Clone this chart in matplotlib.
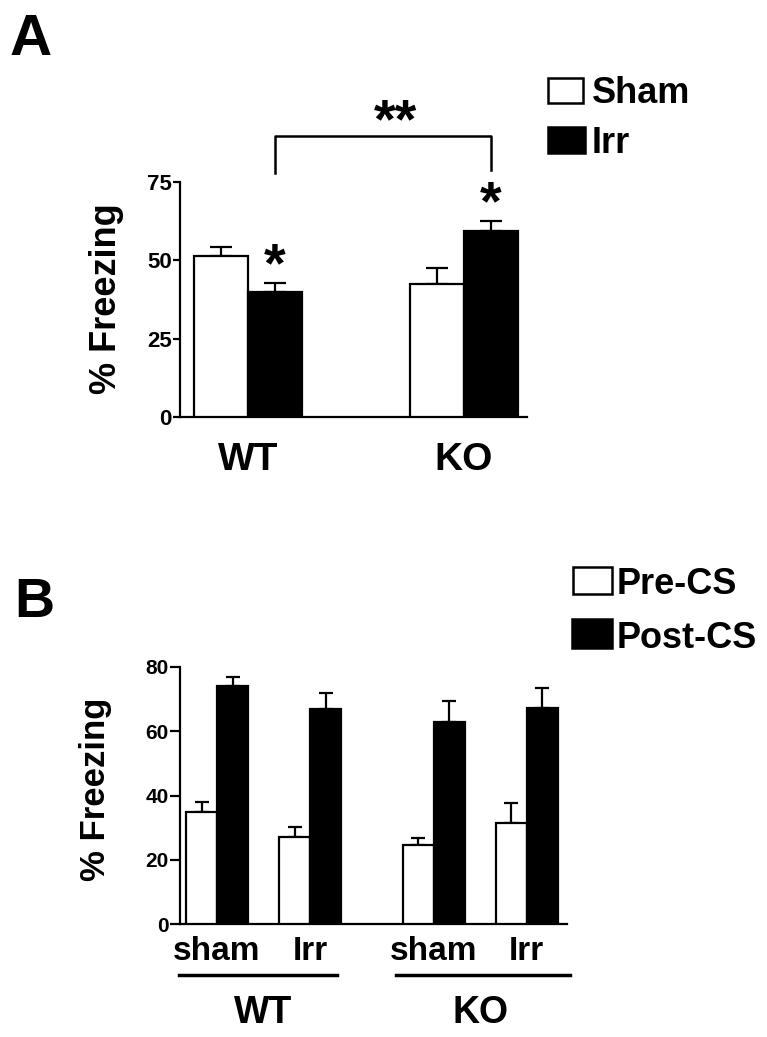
import numpy as np
import matplotlib
matplotlib.use("Agg")
import matplotlib.pyplot as plt
from matplotlib.patches import Rectangle
from matplotlib.lines import Line2D
import matplotlib.transforms as mtransforms

plt.rcParams['font.family'] = ['Liberation Sans', 'DejaVu Sans']

# ---------------- data ----------------
# Panel A
groups_a = ["WT", "KO"]
series_a = ["Sham", "Irr"]
sham_a = [51.4, 42.4]
sham_a_err = [2.9, 5.2]
irr_a = [39.9, 59.4]
irr_a_err = [2.9, 3.2]
yticks_a = [0, 25, 50, 75]

# Panel B
groups_b = ["WT", "KO"]
conds_b = ["sham", "Irr", "sham", "Irr"]
series_b = ["Pre-CS", "Post-CS"]
pre_b = [35.0, 27.0, 24.6, 31.4]
pre_b_err = [3.1, 3.1, 2.2, 6.2]
post_b = [74.0, 66.8, 62.8, 67.2]
post_b_err = [3.0, 5.0, 6.6, 6.2]
yticks_b = [0, 20, 40, 60, 80]

W, H = 767, 1037
fig = plt.figure(figsize=(W / 100, H / 100), dpi=100)


def px_axes(l, t, r, b):
    return fig.add_axes([l / W, 1 - b / H, (r - l) / W, (b - t) / H])


def style_axes(ax, ticklen, ticks, fs):
    for s in ("top", "right"):
        ax.spines[s].set_visible(False)
    for s in ("left", "bottom"):
        ax.spines[s].set_linewidth(1.6)
    ax.set_yticks(ticks)
    ax.set_yticklabels([str(t) for t in ticks], fontsize=fs, fontweight="bold")
    ax.tick_params(axis="y", direction="out", length=ticklen, width=1.6, pad=1)


# ---------------- Panel A ----------------
axA = px_axes(180, 182, 527, 417)
xa = np.arange(len(groups_a), dtype=float)
bw_a = 0.25
axA.bar(xa - bw_a / 2, sham_a, bw_a, color="white", edgecolor="black", linewidth=1.6, zorder=3)
axA.bar(xa + bw_a / 2, irr_a, bw_a, color="black", edgecolor="black", linewidth=1.6, zorder=3)
axA.errorbar(xa - bw_a / 2, sham_a, yerr=[np.zeros(2), sham_a_err], fmt="none",
             ecolor="black", elinewidth=1.6, capsize=8, capthick=1.6, zorder=2)
axA.errorbar(xa + bw_a / 2, irr_a, yerr=[np.zeros(2), irr_a_err], fmt="none",
             ecolor="black", elinewidth=1.6, capsize=8, capthick=1.6, zorder=2)
axA.set_xlim(-0.315, 1.292)
axA.set_ylim(0, 75)
axA.set_xticks(xa)
axA.set_xticklabels(groups_a, fontsize=28, fontweight="bold")
axA.tick_params(axis="x", length=0, pad=18)
style_axes(axA, 5, yticks_a, 16)

# significance stars above Irr bars
for xi, v, e in zip(xa, irr_a, irr_a_err):
    axA.annotate("*", xy=(xi + bw_a / 2, v + e), xytext=(0, 1), textcoords="offset points",
                 ha="center", va="baseline", fontsize=40, fontweight="bold",
                 annotation_clip=False)

# bracket between WT Irr and KO Irr
bx0, bx1 = xa[0] + bw_a / 2, xa[1] + bw_a / 2
axA.add_line(Line2D([bx0, bx0, bx1, bx1], [77.9, 89.7, 89.7, 78.8], color="black",
                    linewidth=1.8, clip_on=False))
axA.annotate("**", xy=((bx0 + bx1) / 2 + 0.06, 89.7), xytext=(0, -1), textcoords="offset points",
             ha="center", va="baseline", fontsize=40, fontweight="bold",
             annotation_clip=False)

fig.text(106 / W, 1 - 299 / H, "% Freezing", rotation=90, ha="center", va="center",
         fontsize=26, fontweight="bold")
fig.text(10 / W, 1 - 55 / H, "A", ha="left", va="baseline", fontsize=42, fontweight="bold")

# legend boxes
def legend_item(l, t, r, b, fc, label, tx, fs):
    fig.patches.append(Rectangle((l / W, 1 - b / H), (r - l) / W, (b - t) / H,
                                 transform=fig.transFigure, facecolor=fc,
                                 edgecolor="black", linewidth=1.8))
    fig.text(tx / W, 1 - b / H, label, ha="left", va="baseline", fontsize=fs,
             fontweight="bold")

legend_item(548, 78, 583, 103, "white", series_a[0], 592, 26)
legend_item(548, 127, 585, 153, "black", series_a[1], 592, 26)

# ---------------- Panel B ----------------
axB = px_axes(180, 667, 567, 924)
xb = np.array([0.0, 1.0, 2.33, 3.33])
bw_b = 0.333
axB.bar(xb - bw_b / 2, pre_b, bw_b, color="white", edgecolor="black", linewidth=1.6, zorder=3)
axB.bar(xb + bw_b / 2, post_b, bw_b, color="black", edgecolor="black", linewidth=1.6, zorder=3)
axB.errorbar(xb - bw_b / 2, pre_b, yerr=[np.zeros(4), pre_b_err], fmt="none",
             ecolor="black", elinewidth=1.6, capsize=5, capthick=1.6, zorder=2)
axB.errorbar(xb + bw_b / 2, post_b, yerr=[np.zeros(4), post_b_err], fmt="none",
             ecolor="black", elinewidth=1.6, capsize=5, capthick=1.6, zorder=2)
axB.set_xlim(-0.398, 3.763)
axB.set_ylim(0, 80)
axB.set_xticks(xb)
axB.set_xticklabels(conds_b, fontsize=24, fontweight="bold")
axB.tick_params(axis="x", length=0, pad=9)
style_axes(axB, 7, yticks_b, 15)

trB = mtransforms.blended_transform_factory(axB.transData, axB.transAxes)
group_members = [(0, 1), (2, 3)]
pads = [(-0.08, -0.04), (-0.07, 0.13)]
for (i0, i1), (pl, pr), name in zip(group_members, pads, groups_b):
    left = xb[i0] - bw_b + pl
    right = xb[i1] + bw_b + pr
    axB.add_line(Line2D([left, right], [-0.198, -0.198], transform=trB, color="black",
                        linewidth=2.5, clip_on=False))
    axB.text((xb[i0] + xb[i1]) / 2, -0.385, name, transform=trB, ha="center",
             va="baseline", fontsize=27, fontweight="bold")

fig.text(96 / W, 1 - 789 / H, "% Freezing", rotation=90, ha="center", va="center",
         fontsize=25, fontweight="bold")
fig.text(14 / W, 1 - 617 / H, "B", ha="left", va="baseline", fontsize=40, fontweight="bold")

legend_item(573, 567, 612, 594, "white", series_b[0], 617, 26)
legend_item(572, 619, 612, 648, "black", series_b[1], 617, 26)

fig.savefig("out.png", dpi=100, facecolor="white")
